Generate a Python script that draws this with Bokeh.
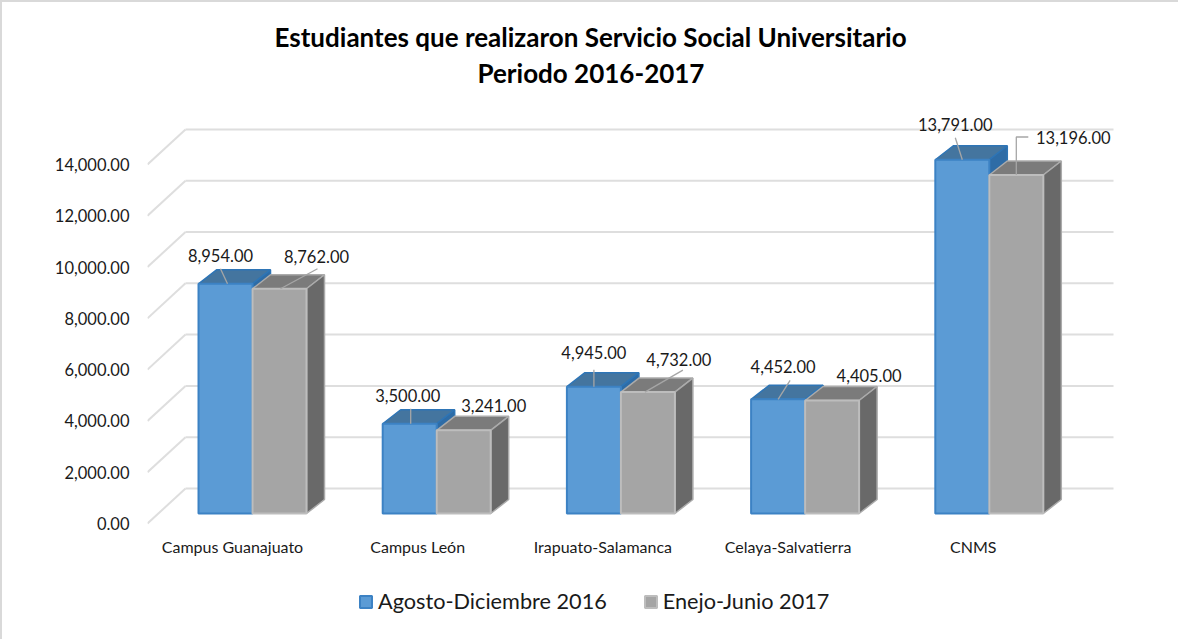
from bokeh.embed import file_html
from bokeh.resources import INLINE
from bokeh.plotting import figure
from bokeh.models import (Range1d, LinearAxis, FixedTicker, NumeralTickFormatter,
                          Label, Legend, LegendItem, Title)

categories = ["Campus Guanajuato", "Campus León", "Irapuato-Salamanca", "Celaya-Salvatierra", "CNMS"]
agosto_dic = [8954, 3500, 4945, 4452, 13791]
enero_jun = [8762, 3241, 4732, 4405, 13196]
y_ticks = [0, 2000, 4000, 6000, 8000, 10000, 12000, 14000]
series_names = ["Agosto-Diciembre 2016", "Enejo-Junio 2017"]
title_lines = ["Estudiantes que realizaron Servicio Social Universitario", "Periodo 2016-2017"]

FONT = "Lato"
# layout, in reference pixels
B = 2           # page-edge rule along top and left
FL, FR, FT, FB = 147, 1115, 92, 637
WALL_BOTTOM = 523
XU = 184.2      # px per category
YU = 0.02565    # px per value
C0, Y0 = 252, 513
BW = 54
DX, DY = 18, 14
W, H = 1176, 637

def xd(px): return (px - C0) / XU
def yd(px): return (Y0 - px) / YU

p = figure(width=W, height=H, output_backend="svg", toolbar_location=None,
           x_range=Range1d(xd(FL), xd(FR)), y_range=Range1d(yd(FB), yd(FT)),
           frame_width=FR - FL, frame_height=FB - FT,
           min_border_left=FL - B, min_border_top=FT - B,
           min_border_right=W + B - FR, min_border_bottom=H + B - FB,
           x_axis_type=None, y_axis_type=None, background_fill_color="white",
           border_fill_color="white", outline_line_color=None)
p.grid.visible = False
p.styles = {"border-left": f"{B}px solid #D9D9D9", "border-top": f"{B}px solid #D9D9D9"}

# axes: the walls sit in front of the bars' plane
p.extra_y_ranges["front"] = Range1d((WALL_BOTTOM - FB) / YU, (WALL_BOTTOM - FT) / YU)
yax = LinearAxis(y_range_name="front", ticker=FixedTicker(ticks=y_ticks),
                 formatter=NumeralTickFormatter(format="0,0.00"))
yax.axis_line_color = None
yax.major_tick_line_color = None
yax.minor_tick_line_color = None
yax.major_label_text_font = FONT
yax.major_label_text_font_size = "16.5px"
yax.major_label_text_color = "#1a1a1a"
yax.major_label_standoff = 12
p.add_layout(yax, "left")

LABEL_X0, LABEL_STEP = 232, 185.2
p.extra_x_ranges["front"] = Range1d((FL - LABEL_X0) / LABEL_STEP, (FR - LABEL_X0) / LABEL_STEP)
xax = LinearAxis(x_range_name="front", ticker=FixedTicker(ticks=list(range(len(categories)))),
                 major_label_overrides={i: c for i, c in enumerate(categories)})
xax.axis_line_color = None
xax.major_tick_line_color = None
xax.minor_tick_line_color = None
xax.major_label_text_font = FONT
xax.major_label_text_font_size = "16px"
xax.major_label_text_color = "#1a1a1a"
xax.major_label_standoff = -107
p.add_layout(xax, "below")

# walls and floor
GRID = "#DEDEDE"
wall_back_x = xd(185)
wall_dy = 25 / YU
wall_front_dy = -10 / YU
p.segment(x0=[xd(FL)] * len(y_ticks), y0=[v + wall_front_dy for v in y_ticks],
          x1=[wall_back_x] * len(y_ticks), y1=[v + wall_dy for v in y_ticks],
          line_color=GRID, line_width=2)
p.segment(x0=[wall_back_x] * len(y_ticks), y0=[v + wall_dy for v in y_ticks],
          x1=[xd(1113)] * len(y_ticks), y1=[v + wall_dy for v in y_ticks],
          line_color=GRID, line_width=2)

w = BW / XU
dx = DX / XU
dy = DY / YU

def box(vals, x_left, front, edge, top, side, front_line):
    xs_top, ys_top, xs_side, ys_side = [], [], [], []
    lefts = [i + x_left for i in range(len(vals))]
    for l, v in zip(lefts, vals):
        xs_top.append([l, l + dx, l + w + dx, l + w])
        ys_top.append([v, v + dy, v + dy, v])
        xs_side.append([l + w, l + w + dx, l + w + dx, l + w])
        ys_side.append([v, v + dy, dy, 0])
    p.patches(xs_top, ys_top, fill_color=top, line_color=edge, line_width=1.5)
    p.patches(xs_side, ys_side, fill_color=side, line_color=edge, line_width=1.5)
    return p.quad(left=lefts, right=[l + w for l in lefts], bottom=[0] * len(vals), top=vals,
                  fill_color=front, line_color=front_line, line_width=2)

r_blue = box(agosto_dic, -w, "#5B9BD5", "#2E75B6", "#44759F", "#2E6CA6", "#3C82C4")
r_gray = box(enero_jun, 0, "#A5A5A5", "#ABABAB", "#7B7B7B", "#696969", "#BDBDBD")

# label offsets from the middle of each bar's top front edge (px, up is positive)
label_off_blue = [(-5, 28), (-2, 28), (0, 34), (5, 33), (-7, 35)]
label_off_gray = [(37, 32), (30, 25), (31, 33), (37, 25), (57, 38)]
lead_blue = [[(2, 0), (-5, 15)], [(1, 0), (1, 15)], [(0, 0), (0, 17)], [(0, 0), (12, 19)], [(0, 0), (-7, 22)]]
lead_gray = [[(1, 0), (38, 20)], None, [(-3, 0), (35, 22)], None, [(0, 0), (0, 38), (12, 38)]]

tx, ty, tt, lx, ly = [], [], [], [], []
for vals, sgn, offs, leads in ((agosto_dic, -1, label_off_blue, lead_blue),
                               (enero_jun, 1, label_off_gray, lead_gray)):
    for i, v in enumerate(vals):
        ax = i + sgn * w / 2
        tx.append(ax + offs[i][0] / XU)
        ty.append(v + offs[i][1] / YU)
        tt.append(f"{v:,.2f}")
        if leads[i]:
            lx.append([ax + a / XU for a, b in leads[i]])
            ly.append([v + b / YU for a, b in leads[i]])
p.multi_line(lx, ly, line_color="#A6A6A6", line_width=1.3)
for x, y, t in zip(tx, ty, tt):
    p.add_layout(Label(x=x, y=y, text=t, text_align="center", text_baseline="middle",
                       text_font=FONT, text_font_size="16.5px", text_color="#1a1a1a"))

# title: panels stack upward from the frame, so the lower line goes first
for line, off, stand in ((title_lines[1], 330, 8), (title_lines[0], 127, -4)):
    p.add_layout(Title(text=line, align="left", offset=off, standoff=stand, text_font=FONT,
                       text_font_style="bold", text_font_size="26px", text_color="#000000"), "above")

legend = Legend(items=[LegendItem(label=series_names[0], renderers=[r_blue]),
                       LegendItem(label=series_names[1], renderers=[r_gray])],
                orientation="horizontal", location=(211, FB - 614),
                label_text_font=FONT, label_text_font_size="21.7px", label_text_color="#1a1a1a",
                glyph_width=15, glyph_height=15, spacing=36, label_standoff=5,
                background_fill_alpha=0, border_line_color=None, padding=0, margin=0)
p.add_layout(legend, "center")

open("out.html", "w").write(file_html(p, INLINE))
